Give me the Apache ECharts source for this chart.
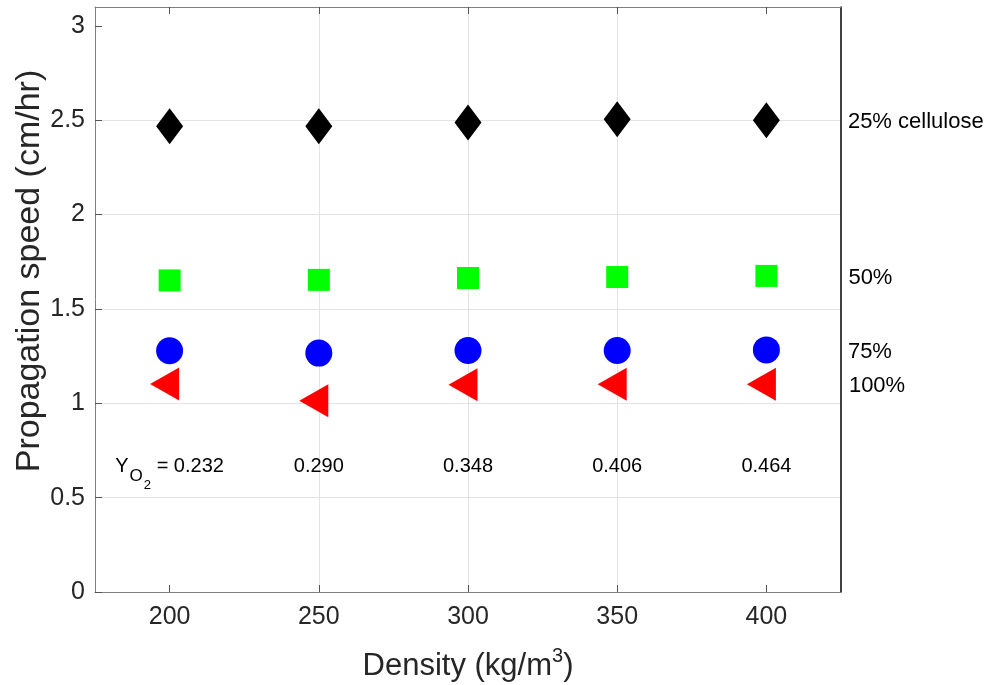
<!DOCTYPE html>
<html>
<head>
<meta charset="utf-8">
<script src="https://cdn.jsdelivr.net/npm/echarts@6/dist/echarts.min.js"></script>
<style>html,body{margin:0;padding:0;background:#fff}#c{width:990px;height:685px}</style>
</head>
<body>
<div id="c"></div>
<script>
const densities = [200, 250, 300, 350, 400];
const cellulose25 = [2.468, 2.468, 2.488, 2.505, 2.500];
const cellulose50 = [1.651, 1.654, 1.664, 1.669, 1.675];
const cellulose75 = [1.278, 1.266, 1.280, 1.280, 1.283];
const cellulose100 = [1.102, 1.013, 1.098, 1.101, 1.101];
const seriesNames = ['25% cellulose', '50%', '75%', '100%'];
const yO2 = ['0.232', '0.290', '0.348', '0.406', '0.464'];
const yO2LabelLevel = 0.665;
const xTicks = [200, 250, 300, 350, 400];
const yTicks = [0, 0.5, 1, 1.5, 2, 2.5, 3];
const yTitle = 'Propagation speed (cm/hr)';

const FONT = 'Liberation Sans, Arial, Helvetica, sans-serif';
const TXT = '#262626';

function pts(vals, name, labelDist) {
  return vals.map((v, i) => {
    const item = { value: [densities[i], v] };
    if (i === vals.length - 1) {
      item.label = {
        show: true, position: 'right', distance: labelDist, offset: [0, 2],
        formatter: name, color: '#000', opacity: 1, fontSize: 22, fontFamily: FONT
      };
    }
    return item;
  });
}

const chart = echarts.init(document.getElementById('c'), null, { renderer: 'canvas' });
chart.setOption({
  animation: false,
  backgroundColor: '#fff',
  grid: { left: 95, right: 149, top: 7, bottom: 93, containLabel: false, outerBoundsMode: 'none' },
  graphic: [
    {
      type: 'text', x: 30, y: 271, rotation: Math.PI / 2, silent: true,
      style: { text: yTitle, fontSize: 34, fontFamily: FONT, fill: TXT, align: 'center', verticalAlign: 'middle' }
    }
  ],
  xAxis: [
    {
      type: 'value', min: 175, max: 425, interval: 25, position: 'bottom',
      name: 'Density (kg/m{sup|3})', nameLocation: 'middle', nameGap: 54,
      nameTextStyle: {
        fontSize: 31, fontFamily: FONT, color: TXT,
        rich: { sup: { fontSize: 20, fontFamily: FONT, color: TXT, padding: [0, 0, 20, 0] } }
      },
      axisLine: { show: true, onZero: false, lineStyle: { color: '#808080', width: 1 } },
      axisTick: { show: true, inside: true, length: 7, lineStyle: { color: '#555' },
        customValues: xTicks },
      axisLabel: { fontSize: 25, fontFamily: FONT, color: TXT, margin: 13,
        customValues: xTicks },
      splitLine: { show: true, lineStyle: { color: '#e3e3e3', width: 1 }, showMinLine: false, showMaxLine: false }
    },
    {
      type: 'value', min: 175, max: 425, interval: 25, position: 'top',
      axisLine: { show: true, onZero: false, lineStyle: { color: '#808080', width: 1 } },
      axisTick: { show: true, inside: true, length: 7, lineStyle: { color: '#555' }, customValues: xTicks },
      axisLabel: { show: false },
      splitLine: { show: false }
    }
  ],
  yAxis: [
    {
      type: 'value', min: 0, max: 3.1, interval: 0.5, position: 'left',
      axisLine: { show: true, onZero: false, lineStyle: { color: '#808080', width: 1 } },
      axisTick: { show: true, inside: true, length: 7, lineStyle: { color: '#555' }, customValues: yTicks },
      axisLabel: { fontSize: 25, fontFamily: FONT, color: TXT, margin: 10, customValues: yTicks,
        formatter: v => String(v) },
      splitLine: { show: true, lineStyle: { color: '#e3e3e3', width: 1 }, showMinLine: false, showMaxLine: false }
    },
    {
      type: 'value', min: 0, max: 3.1, position: 'right',
      axisLine: { show: true, onZero: false, lineStyle: { color: '#000', width: 1.5 } },
      axisTick: { show: false }, axisLabel: { show: false }, splitLine: { show: false }
    }
  ],
  series: [
    {
      type: 'scatter', name: seriesNames[0], symbol: 'diamond', symbolSize: [27, 36],
      itemStyle: { color: '#000', opacity: 1 }, data: pts(cellulose25, seriesNames[0], 68), z: 5
    },
    {
      type: 'scatter', name: seriesNames[1], symbol: 'rect', symbolSize: [22, 22],
      itemStyle: { color: '#00ff00', opacity: 1 }, data: pts(cellulose50, seriesNames[1], 71), z: 5
    },
    {
      type: 'scatter', name: seriesNames[2], symbol: 'circle', symbolSize: 27,
      itemStyle: { color: '#0000ff', opacity: 1 }, data: pts(cellulose75, seriesNames[2], 68), z: 5
    },
    {
      type: 'scatter', name: seriesNames[3], symbol: 'path://M0,5 L10,0 L10,10 Z',
      symbolSize: [29, 33], symbolKeepAspect: false, symbolOffset: [-5, 0],
      itemStyle: { color: '#ff0000', opacity: 1 }, data: pts(cellulose100, seriesNames[3], 73), z: 5
    },
    {
      type: 'scatter', name: 'YO2', symbol: 'circle', symbolSize: 1,
      itemStyle: { color: 'rgba(0,0,0,0)' },
      data: densities.map((d, i) => ({ value: [d, yO2LabelLevel] })),
      label: {
        show: true, position: 'inside', color: '#000', opacity: 1, fontFamily: FONT, fontSize: 20,
        formatter: p => p.dataIndex === 0
          ? '{y|Y}{o|O}{two|2}{n| = ' + yO2[0] + '}'
          : yO2[p.dataIndex],
        rich: {
          y: { fontSize: 20, fontFamily: FONT, color: '#000' },
          o: { fontSize: 17, fontFamily: FONT, color: '#000', padding: [20, 0, 0, 1] },
          two: { fontSize: 13, fontFamily: FONT, color: '#000', padding: [38, 0, 0, 1] },
          n: { fontSize: 20, fontFamily: FONT, color: '#000' }
        }
      },
      emphasis: { disabled: true },
      z: 6
    }
  ]
});
</script>
</body>
</html>
